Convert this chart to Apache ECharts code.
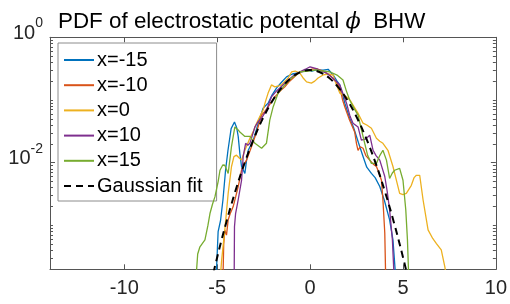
<!DOCTYPE html>
<html>
<head>
<meta charset="utf-8">
<script src="https://cdn.jsdelivr.net/npm/echarts@6/dist/echarts.min.js"></script>
<style>html,body{margin:0;padding:0;background:#fff}#c{width:510px;height:304px}</style>
</head>
<body>
<div id="c"></div>
<script>
const seriesNames = ['x=-15', 'x=-10', 'x=0', 'x=10', 'x=15', 'Gaussian fit'];
const xTicks = [-10, -5, 0, 5, 10];
const yLabelTicks = [0.01, 1];
const yMinorTicks = [2e-4,3e-4,4e-4,5e-4,6e-4,7e-4,8e-4,9e-4,1e-3,2e-3,3e-3,4e-3,5e-3,6e-3,7e-3,8e-3,9e-3,
  2e-2,3e-2,4e-2,5e-2,6e-2,7e-2,8e-2,9e-2,0.1,0.2,0.3,0.4,0.5,0.6,0.7,0.8,0.9];

const pdfXm15 = [[-5.08,1e-4],[-4.95,0.0008],[-4.82,0.0012],[-4.69,0.00257],[-4.55,0.0076],[-4.42,0.0158],[-4.25,0.035],[-4.07,0.0447],[-3.95,0.036],[-3.87,0.0263],[-3.78,0.014],[-3.69,0.0087],[-3.51,0.00676],[-3.42,0.011],[-3.33,0.0158],[-3.06,0.0229],[-2.79,0.0427],[-2.53,0.0741],[-2.26,0.0891],[-2.05,0.12],[-1.81,0.155],[-1.55,0.19],[-1.27,0.234],[-0.95,0.26],[-0.73,0.269],[-0.45,0.28],[-0.19,0.302],[0.1,0.29],[0.34,0.302],[0.7,0.3],[0.97,0.309],[1.1,0.28],[1.24,0.251],[1.45,0.2],[1.60,0.174],[1.87,0.089],[2.13,0.0513],[2.33,0.0372],[2.6,0.021],[2.85,0.0126],[3.05,0.0085],[3.30,0.00676],[3.5,0.0058],[3.75,0.00417],[4.0,0.0025],[4.28,0.00123],[4.46,0.000589],[4.65,1e-4]];

const pdfXm10 = [[-4.70,1e-4],[-4.65,0.0005],[-4.59,0.000851],[-4.5,0.0007],[-4.41,0.00123],[-4.28,0.0016],[-4.14,0.0020],[-4.0,0.0029],[-3.87,0.00417],[-3.69,0.00759],[-3.55,0.0095],[-3.42,0.011],[-3.15,0.0182],[-2.88,0.0309],[-2.61,0.0575],[-2.45,0.065],[-2.26,0.0776],[-1.90,0.112],[-1.6,0.14],[-1.36,0.162],[-1.1,0.2],[-0.91,0.224],[-0.55,0.282],[-0.2,0.29],[0.1,0.31],[0.34,0.316],[0.7,0.29],[1.06,0.251],[1.35,0.2],[1.60,0.162],[1.75,0.1],[1.87,0.0776],[2.1,0.05],[2.40,0.0309],[2.50,0.02],[2.58,0.0158],[2.7,0.018],[2.85,0.017],[3.0,0.013],[3.21,0.011],[3.4,0.0095],[3.57,0.00871],[3.7,0.007],[3.84,0.00525],[3.92,0.00257],[4.02,0.000759],[4.08,1e-4]];

const pdfX0 = [[-4.88,1e-4],[-4.76,0.000282],[-4.59,0.000851],[-4.41,0.00324],[-4.23,0.00871],[-4.1,0.0125],[-3.96,0.0132],[-3.8,0.0118],[-3.69,0.011],[-3.51,0.0158],[-3.24,0.0245],[-3.05,0.032],[-2.88,0.0427],[-2.7,0.055],[-2.53,0.0692],[-2.4,0.095],[-2.26,0.129],[-2.08,0.174],[-1.90,0.162],[-1.7,0.168],[-1.54,0.174],[-1.35,0.2],[-1.18,0.224],[-1.0,0.28],[-0.8,0.29],[-0.55,0.269],[-0.35,0.22],[-0.19,0.195],[0.07,0.186],[0.25,0.2],[0.43,0.224],[0.70,0.251],[1.0,0.26],[1.24,0.251],[1.4,0.18],[1.60,0.129],[1.96,0.112],[2.15,0.1],[2.31,0.0832],[2.6,0.06],[2.85,0.0427],[3.05,0.04],[3.30,0.0355],[3.57,0.0245],[3.75,0.022],[3.92,0.0204],[4.19,0.0158],[4.46,0.00871],[4.65,0.0052],[4.82,0.00324],[5.0,0.0031],[5.18,0.00324],[5.45,0.00437],[5.6,0.0058],[5.72,0.00631],[5.90,0.00631],[6.08,0.00257],[6.35,0.000851],[6.6,0.00062],[6.80,0.000513],[7.06,0.000407],[7.25,0.00022],[7.45,1e-4]];

const pdfX10 = [[-4.09,1e-4],[-4.07,0.000955],[-4.01,0.00155],[-3.87,0.00257],[-3.69,0.00525],[-3.60,0.0126],[-3.47,0.0204],[-3.35,0.019],[-3.24,0.0204],[-2.97,0.0372],[-2.8,0.045],[-2.61,0.0513],[-2.35,0.0692],[-2.08,0.112],[-1.85,0.135],[-1.63,0.155],[-1.18,0.209],[-0.85,0.25],[-0.55,0.282],[-0.25,0.31],[0.0,0.339],[0.34,0.316],[0.6,0.29],[0.88,0.269],[1.25,0.22],[1.60,0.174],[1.96,0.0891],[2.15,0.055],[2.31,0.0427],[2.58,0.0372],[2.76,0.0229],[3.0,0.024],[3.21,0.0275],[3.39,0.0158],[3.55,0.013],[3.75,0.011],[4.02,0.00603],[4.15,0.0035],[4.28,0.00178],[4.43,0.000589],[4.55,1e-4]];

const pdfX15 = [[-6.18,1e-4],[-6.05,0.00035],[-5.93,0.000457],[-5.66,0.000589],[-5.5,0.001],[-5.39,0.00155],[-5.25,0.0022],[-5.12,0.00288],[-4.95,0.005],[-4.85,0.00759],[-4.70,0.0092],[-4.59,0.00912],[-4.41,0.00676],[-4.23,0.0182],[-4.05,0.0372],[-3.9,0.034],[-3.78,0.0309],[-3.51,0.0263],[-3.24,0.0263],[-2.97,0.0204],[-2.61,0.017],[-2.35,0.0204],[-2.17,0.0479],[-1.99,0.0776],[-1.72,0.129],[-1.36,0.174],[-1.0,0.224],[-0.75,0.25],[-0.55,0.282],[-0.1,0.29],[0.34,0.302],[0.7,0.29],[1.06,0.282],[1.45,0.25],[1.77,0.209],[1.95,0.14],[2.13,0.1],[2.35,0.075],[2.58,0.0575],[2.75,0.035],[2.94,0.0204],[3.1,0.013],[3.30,0.00977],[3.57,0.00977],[3.75,0.013],[3.92,0.0158],[4.11,0.011],[4.28,0.00562],[4.42,0.0068],[4.55,0.00759],[4.82,0.00813],[5.0,0.00525],[5.15,0.00178],[5.24,0.000589],[5.33,1e-4]];

const gaussFit = [[-5.5,7.4e-5],[-5.0,3.12e-4],[-4.5,1.15e-3],[-4.0,3.70e-3],[-3.5,1.04e-2],[-3.0,2.53e-2],[-2.5,5.39e-2],[-2.0,0.100],[-1.5,0.162],[-1.0,0.228],[-0.5,0.280],[0,0.300],[0.5,0.280],[1.0,0.228],[1.5,0.162],[2.0,0.100],[2.5,5.39e-2],[3.0,2.53e-2],[3.5,1.04e-2],[4.0,3.70e-3],[4.5,1.15e-3],[5.0,3.12e-4],[5.5,7.4e-5]];

const colors = ['#0072BD', '#D95319', '#EDB120', '#7E2F8E', '#77AC30', '#000000'];
const seriesData = [pdfXm15, pdfXm10, pdfX0, pdfX10, pdfX15, gaussFit];

const FONT = '"Liberation Sans", Arial, Helvetica, sans-serif';
const AX = '#555555';
const TXT = '#262626';

function yAxisBase(pos, ticks, len, showLine) {
  return {
    type: 'log', logBase: 10, min: 2e-4, max: 1, position: pos,
    axisLine: { show: showLine, onZero: false, lineStyle: { color: AX, width: 1 } },
    axisTick: { show: true, inside: true, length: len, customValues: ticks, lineStyle: { color: AX, width: 1 } },
    axisLabel: { show: false },
    splitLine: { show: false }, minorTick: { show: false }, minorSplitLine: { show: false }
  };
}

const yLeft = yAxisBase('left', yLabelTicks, 5, true);
yLeft.axisLabel = {
  show: true, customValues: yLabelTicks, margin: 7,
  formatter: function (v) {
    const p = Math.round(Math.log10(v));
    return '{b|10}{s|' + p + '}';
  },
  rich: {
    b: { fontSize: 20, fontFamily: FONT, color: TXT, lineHeight: 20, padding: [0, 0, 8, 0] },
    s: { fontSize: 14, fontFamily: FONT, color: TXT, lineHeight: 14, padding: [0, 0, 28, 0] }
  }
};

const option = {
  animation: false,
  color: colors,
  title: {
    text: '{n|PDF of electrostatic potental }{i|ϕ}{n|  BHW}',
    left: 53, top: 6,
    textStyle: {
      fontWeight: 'normal',
      rich: {
        n: { fontSize: 22.4, fontFamily: FONT, fontWeight: 'normal', color: '#000' },
        i: { fontSize: 22.4, fontFamily: '"DejaVu Serif", serif', fontStyle: 'italic', fontWeight: 'normal', color: '#000' }
      }
    }
  },
  grid: { left: 50, right: 13.3, top: 37.3, bottom: 34.7 },
  legend: {
    orient: 'vertical', left: 58, top: 43,
    data: seriesNames,
    itemWidth: 30, itemHeight: 14, itemGap: 5.2,
    padding: [7, 14, 5, 5],
    backgroundColor: '#ffffff', borderColor: '#8c8c8c', borderWidth: 1, borderRadius: 0,
    itemStyle: { opacity: 0 },
    textStyle: { fontSize: 20, fontFamily: FONT, color: '#000', lineHeight: 20, padding: [0, 0, 0, -2] }
  },
  xAxis: [
    {
      type: 'value', min: -14, max: 10, position: 'bottom',
      axisLine: { show: true, onZero: false, lineStyle: { color: AX, width: 1 } },
      axisTick: { show: true, inside: true, length: 5, customValues: xTicks, lineStyle: { color: AX } },
      axisLabel: { show: true, customValues: xTicks, fontSize: 20, fontFamily: FONT, color: TXT, margin: 9 },
      splitLine: { show: false }
    },
    {
      type: 'value', min: -14, max: 10, position: 'top',
      axisLine: { show: true, onZero: false, lineStyle: { color: AX, width: 1 } },
      axisTick: { show: true, inside: true, length: 5, customValues: xTicks, lineStyle: { color: AX } },
      axisLabel: { show: false },
      splitLine: { show: false }
    }
  ],
  yAxis: [
    yLeft,
    yAxisBase('left', yMinorTicks, 3, false),
    yAxisBase('right', yLabelTicks, 5, true),
    yAxisBase('right', yMinorTicks, 3, false)
  ],
  series: seriesData.map(function (d, i) {
    const isFit = i === 5;
    return {
      name: seriesNames[i], type: 'line', data: d,
      xAxisIndex: 0, yAxisIndex: 0,
      symbol: 'none', showSymbol: false, smooth: isFit ? 0.4 : false,
      clip: true,
      lineStyle: isFit ? { color: '#000', width: 2, type: [7, 5] } : { color: colors[i], width: 1.3 },
      itemStyle: { color: colors[i] },
      z: 2 + i
    };
  })
};

const chart = echarts.init(document.getElementById('c'), null, { renderer: 'canvas' });
chart.setOption(option);
</script>
</body>
</html>
